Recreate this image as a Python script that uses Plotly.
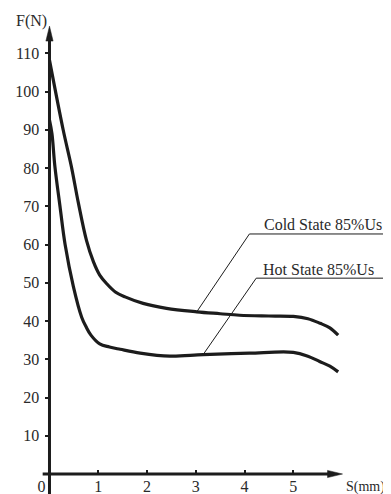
import plotly.graph_objects as go

# ---- data ----
cold_s = [0.0, 0.28, 0.45, 0.59, 0.76, 0.9, 1.03, 1.17, 1.35, 1.55, 1.92, 2.4, 3.02, 3.5, 3.9, 4.5, 5.0, 5.3, 5.55, 5.75, 5.92]
cold_f = [108.2, 90.0, 80.3, 71.0, 61.0, 55.5, 52.0, 49.8, 47.6, 46.3, 44.6, 43.3, 42.4, 41.9, 41.5, 41.3, 41.2, 40.6, 39.4, 38.2, 36.3]

hot_s = [0.0, 0.05, 0.11, 0.215, 0.32, 0.49, 0.66, 0.75, 0.85, 1.03, 1.23, 1.45, 1.86, 2.47, 3.15, 4.1, 5.0, 5.3, 5.54, 5.75, 5.92]
hot_f = [92.5, 89.0, 80.5, 70.0, 60.0, 49.0, 41.0, 38.5, 36.3, 34.0, 33.2, 32.6, 31.6, 30.8, 31.2, 31.6, 31.8, 30.8, 29.4, 28.2, 26.7]

x_ticks = [0, 1, 2, 3, 4, 5]
x_ticktext = ["0\u2003", "1", "2", "3", "4", "5"]
y_ticks = [10, 20, 30, 40, 50, 60, 70, 80, 90, 100, 110]

cold_label = "Cold State 85%Us"
hot_label = "Hot State 85%Us"
# leader lines: (point on curve) -> (elbow) -> (end of horizontal)
cold_leader_s = [3.02, 4.10, 6.98]
cold_leader_f = [42.4, 62.75, 62.75]
hot_leader_s = [3.15, 4.24, 6.92]
hot_leader_f = [31.2, 51.2, 51.2]

# axis extents (data units)
X_AXIS_FROM, X_AXIS_TIP = -0.14, 6.01
Y_AXIS_FROM, Y_AXIS_TIP = -5.3, 117.1
X_RANGE = [-0.851, 7.004]
Y_RANGE = [-5.23, 121.83]

FONT = "Liberation Serif"
INK = "#1c1c1c"
TXT = "#2a2a2a"

fig = go.Figure()
for xs, ys in [(cold_s, cold_f), (hot_s, hot_f)]:
    fig.add_trace(go.Scatter(x=xs, y=ys, mode="lines",
                             line=dict(color=INK, width=3.2, shape="spline", smoothing=1.0),
                             showlegend=False, hoverinfo="skip"))
for xs, ys in [(cold_leader_s, cold_leader_f), (hot_leader_s, hot_leader_f)]:
    fig.add_trace(go.Scatter(x=xs, y=ys, mode="lines", line=dict(color=INK, width=1),
                             showlegend=False, hoverinfo="skip"))

shapes = [
    # x axis line
    dict(type="line", xref="x", yref="y", x0=X_AXIS_FROM, x1=X_AXIS_TIP - 0.2, y0=0, y1=0,
         line=dict(color=INK, width=3)),
    # y axis line
    dict(type="line", xref="x", yref="y", x0=0, x1=0, y0=Y_AXIS_FROM, y1=Y_AXIS_TIP - 3,
         line=dict(color=INK, width=3)),
    # arrow heads (pixel-sized, anchored at the axis tips)
    dict(type="path", xref="x", yref="y", xsizemode="pixel", ysizemode="pixel",
         xanchor=X_AXIS_TIP, yanchor=0, path="M0,0 L-15,3.6 L-15,-3.6 Z",
         fillcolor=INK, line=dict(color=INK, width=0.5)),
    dict(type="path", xref="x", yref="y", xsizemode="pixel", ysizemode="pixel",
         xanchor=0, yanchor=Y_AXIS_TIP, path="M0,0 L-3.6,-15 L3.6,-15 Z",
         fillcolor=INK, line=dict(color=INK, width=0.5)),
]

ann = [
    dict(x=-0.379, y=118.4, xref="x", yref="y", text="F(N)", showarrow=False,
         font=dict(family=FONT, size=16, color=TXT), xanchor="center", yanchor="middle"),
    dict(x=6.49, y=-3.5, xref="x", yref="y", text="S(mm)", showarrow=False,
         font=dict(family=FONT, size=14, color=TXT), xanchor="center", yanchor="middle"),
    dict(x=4.352, y=65.1, xref="x", yref="y", text=cold_label, showarrow=False,
         font=dict(family=FONT, size=16, color=TXT), xanchor="left", yanchor="middle"),
    dict(x=4.331, y=53.5, xref="x", yref="y", text=hot_label, showarrow=False,
         font=dict(family=FONT, size=16, color=TXT), xanchor="left", yanchor="middle"),
]

xpos = (0 - Y_RANGE[0]) / (Y_RANGE[1] - Y_RANGE[0])   # where F=0 sits in paper fraction
ypos = (0 - X_RANGE[0]) / (X_RANGE[1] - X_RANGE[0])   # where S=0 sits in paper fraction

# the page body adds an 8px margin, so the figure is 8px smaller than the window
fig.update_layout(
    width=383, height=486,
    margin=dict(l=0, r=0, t=0, b=0),
    paper_bgcolor="white", plot_bgcolor="white",
    shapes=shapes, annotations=ann,
    xaxis=dict(range=X_RANGE, anchor="free", position=xpos, tickvals=x_ticks, ticktext=x_ticktext,
               ticks="inside", ticklen=4, tickwidth=1.5, tickcolor=INK, showgrid=False,
               zeroline=False, showline=False, ticklabelstandoff=1, automargin=False,
               tickfont=dict(family=FONT, size=16, color=TXT), fixedrange=True),
    yaxis=dict(range=Y_RANGE, anchor="free", position=ypos, tickvals=y_ticks,
               ticks="outside", ticklen=4, tickwidth=1.5, tickcolor=INK, showgrid=False,
               zeroline=False, showline=False, ticklabelstandoff=3, automargin=False,
               tickfont=dict(family=FONT, size=16, color=TXT), fixedrange=True),
)

fig.write_html("out.html")
